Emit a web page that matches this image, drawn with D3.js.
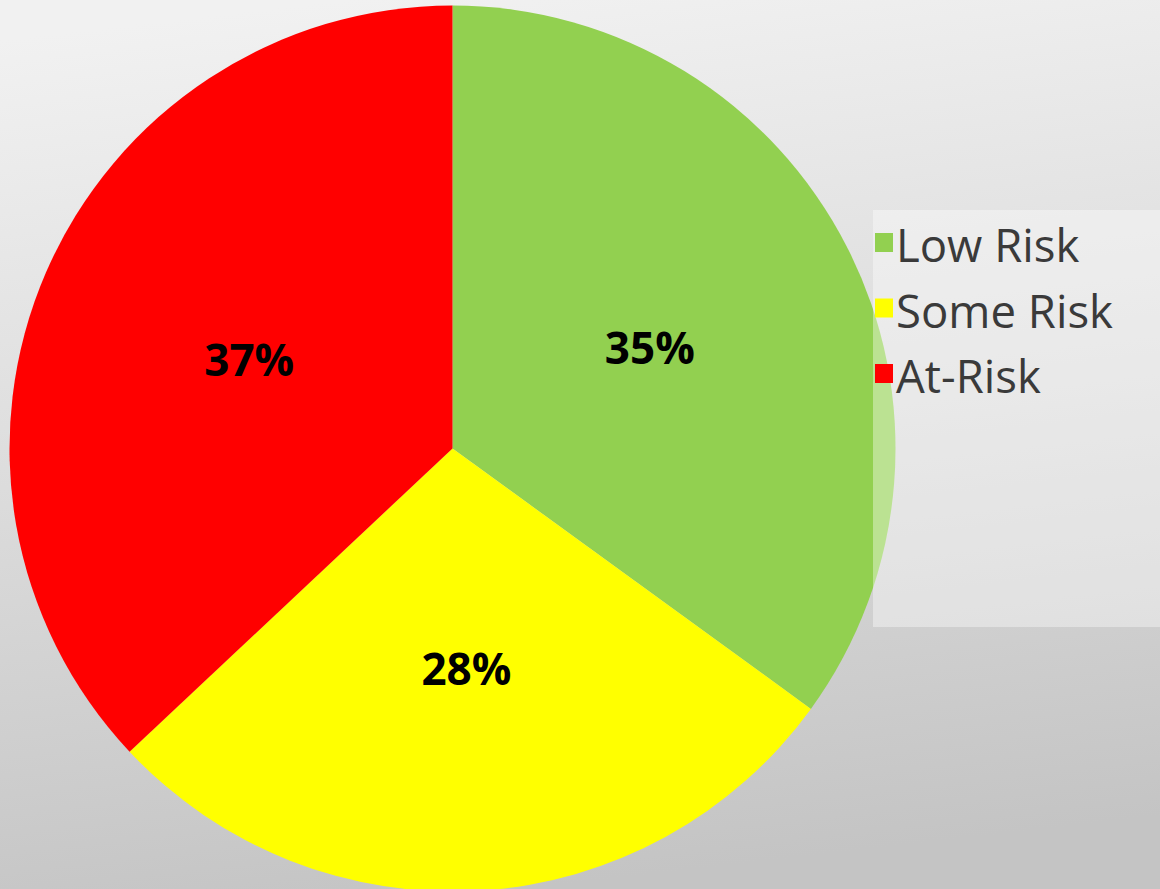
<!DOCTYPE html>
<html>
<head>
<meta charset="utf-8">
<script src="https://cdn.jsdelivr.net/npm/d3@7"></script>
<style>
  html, body { margin: 0; padding: 0; overflow: hidden; }
  svg { display: block; }
</style>
</head>
<body>
<script>
const categories = ["Low Risk", "Some Risk", "At-Risk"];
const values = [35, 28, 37];
const labels = ["35%", "28%", "37%"];
const colors = ["#92D050", "#FFFF00", "#FF0000"];

const W = 1160, H = 889;
const cx = 452.5, cy = 448.5, R = 443;

const svg = d3.select("body").append("svg").attr("width", W).attr("height", H);

const defs = svg.append("defs");
const grad = defs.append("linearGradient").attr("id", "bg")
  .attr("x1", "0.3").attr("y1", "0").attr("x2", "0.45").attr("y2", "1");
grad.append("stop").attr("offset", "0").attr("stop-color", "#f1f1f1");
grad.append("stop").attr("offset", "0.45").attr("stop-color", "#dedede");
grad.append("stop").attr("offset", "1").attr("stop-color", "#c4c4c4");

svg.append("rect").attr("width", W).attr("height", H).attr("fill", "url(#bg)");

const data = categories.map((c, i) => ({ cat: c, value: values[i], label: labels[i], color: colors[i] }));

const pie = d3.pie().sort(null).value(d => d.value);
const arc = d3.arc().innerRadius(0).outerRadius(R);
const arcs = pie(data);

const g = svg.append("g").attr("transform", `translate(${cx},${cy})`);
g.selectAll("path.slice").data(arcs).join("path")
  .attr("class", "slice")
  .attr("d", arc)
  .attr("fill", d => d.data.color);

g.selectAll("text.lbl").data(arcs).join("text")
  .attr("class", "lbl")
  .attr("transform", d => `translate(${arc.centroid(d)})`)
  .attr("text-anchor", "middle")
  .attr("dy", "0.36em")
  .attr("font-family", "'Open Sans', sans-serif")
  .attr("font-weight", "bold")
  .attr("font-size", 44)
  .attr("fill", "#000")
  .text(d => d.data.label);

// Legend
const lg = svg.append("g");
lg.append("rect")
  .attr("x", 873).attr("y", 210).attr("width", W - 873).attr("height", 417)
  .attr("fill", "#ffffff").attr("fill-opacity", 0.38);

const rowY = d3.scalePoint().domain(categories).range([262, 393]);
const items = lg.selectAll("g.item").data(data).join("g").attr("class", "item");
items.append("rect")
  .attr("x", 875).attr("y", d => rowY(d.cat) - 29)
  .attr("width", 18).attr("height", 19)
  .attr("fill", d => d.color);
items.append("text")
  .attr("x", 896).attr("y", d => rowY(d.cat))
  .attr("font-family", "'Open Sans', sans-serif")
  .attr("font-size", 45.5)
  .attr("fill", "#3a3a3a")
  .text(d => d.cat);
</script>
</body>
</html>
